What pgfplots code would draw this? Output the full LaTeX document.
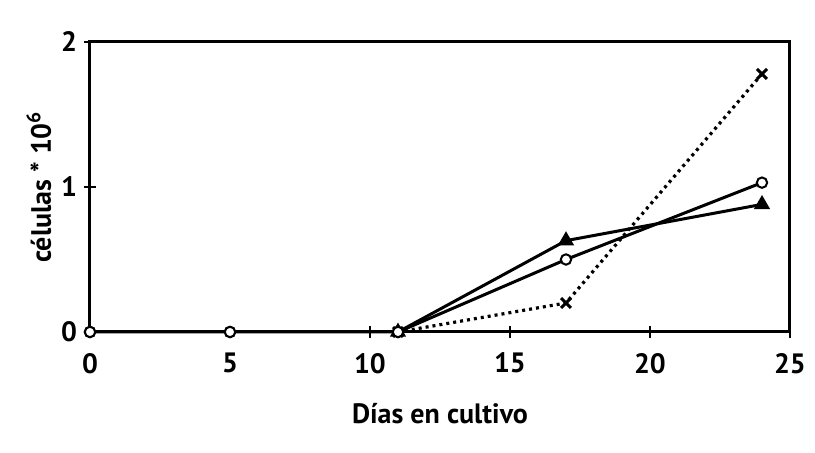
\documentclass[border=0pt]{standalone}
\usepackage{pgfplots}
\pgfplotsset{compat=1.18}
\usepackage{fontspec}
\setmainfont{PT Sans}
\begin{document}
\begin{tikzpicture}
\begin{axis}[
  scale only axis,
  width=350pt, height=145pt,
  xmin=0, xmax=25, ymin=0, ymax=2,
  xtick={0,5,10,15,20,25},
  ytick={0,1,2},
  xtick pos=bottom, ytick pos=left,
  tick align=center,
  major tick length=6pt,
  axis line style={line width=1.5pt},
  tick style={line width=1pt, black},
  /pgf/number format/assume math mode=true,
  ticklabel style={font=\fontsize{14}{16}\selectfont\bfseries},
  xticklabel style={yshift=-4pt},
  xlabel={Días en cultivo},
  ylabel={células * 10\textsuperscript{6}},
  label style={font=\fontsize{14}{16}\selectfont\bfseries},
  xlabel style={yshift=-8pt},
  ylabel style={yshift=-2pt},
  clip=false,
]
\addplot[black, line width=1.5pt, mark=*, mark size=2.6pt, mark options={fill=white, line width=1pt}]
  coordinates {(0,0) (5,0) (11,0) (17,0.50) (24,1.03)};
\addplot[black, line width=1.5pt, mark=triangle*, mark size=3.2pt, mark options={fill=black}]
  coordinates {(11,0) (17,0.63) (24,0.88)};
\addplot[black, line width=1.6pt, dash pattern=on 1.5pt off 2pt, mark=x, mark size=3.5pt, mark options={solid, line width=1.5pt}]
  coordinates {(11,0) (17,0.20) (24,1.78)};
\addplot[black, only marks, mark=*, mark size=2.6pt, mark options={fill=white, line width=1pt}]
  coordinates {(0,0) (5,0) (11,0)};
\end{axis}
\pgfresetboundingbox
\path (current axis.south west) ++(-45pt,-60.5pt);
\path (current axis.north east) ++(12.5pt,21pt);
\end{tikzpicture}
\end{document}
